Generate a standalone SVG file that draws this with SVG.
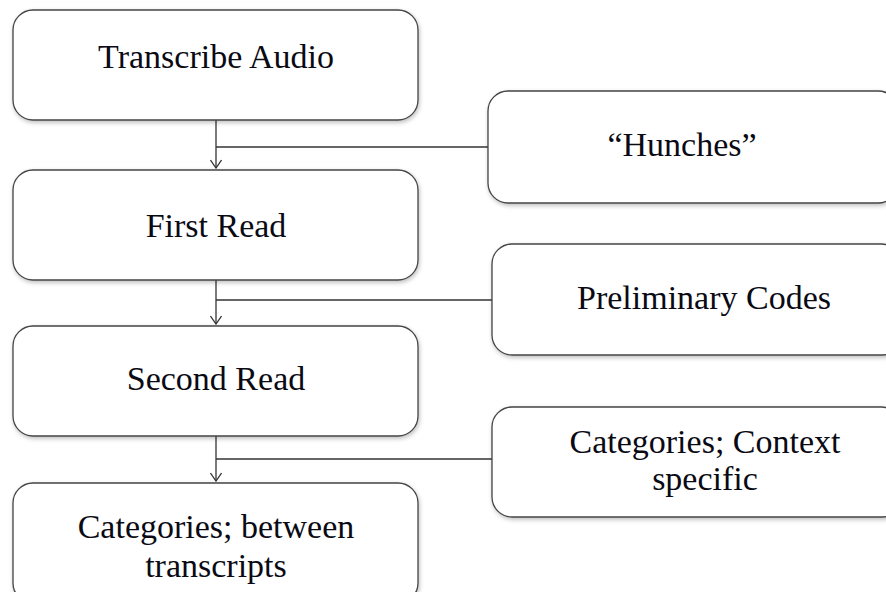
<svg xmlns="http://www.w3.org/2000/svg" width="886" height="592" viewBox="0 0 886 592">
<defs>
<style>
.box{fill:#fff;stroke:#444;stroke-width:1.3}
.t{font-family:"Liberation Serif","Times New Roman",serif;font-size:34px;fill:#0a0a14;text-anchor:middle}
.c{fill:none;stroke:#333;stroke-width:1.3}
</style>
<filter id="sh" x="-5%" y="-5%" width="112%" height="120%">
<feDropShadow dx="1" dy="2" stdDeviation="2" flood-color="#000" flood-opacity="0.25"/>
</filter>
<marker id="arr" viewBox="0 0 12 12" refX="11" refY="6" markerWidth="12" markerHeight="12" markerUnits="userSpaceOnUse" orient="auto">
<path d="M3,0.5 L11,6 L3,11.5" fill="none" stroke="#333" stroke-width="1.3"/>
</marker>
</defs>
<g id="connectors">
<path class="c" d="M216,120 V168" marker-end="url(#arr)"/>
<path class="c" d="M216,147 H488"/>
<path class="c" d="M216,280 V324" marker-end="url(#arr)"/>
<path class="c" d="M216,300 H492"/>
<path class="c" d="M216,436 V481" marker-end="url(#arr)"/>
<path class="c" d="M216,459 H492"/>
</g>
<g id="transcribe">
<rect class="box" filter="url(#sh)" x="13" y="10" width="405" height="110" rx="20"/>
<text class="t" x="216" y="68">Transcribe Audio</text>
</g>
<g id="first">
<rect class="box" filter="url(#sh)" x="13" y="170" width="405" height="110" rx="20"/>
<text class="t" x="216" y="237">First Read</text>
</g>
<g id="second">
<rect class="box" filter="url(#sh)" x="13" y="326" width="405" height="110" rx="20"/>
<text class="t" x="216" y="390">Second Read</text>
</g>
<g id="between">
<rect class="box" filter="url(#sh)" x="13" y="483" width="405" height="120" rx="20"/>
<text class="t" x="216" y="538">Categories; between</text>
<text class="t" x="216" y="577">transcripts</text>
</g>
<g id="hunches">
<rect class="box" filter="url(#sh)" x="488" y="91" width="410" height="112" rx="20"/>
<text class="t" x="682" y="156">“Hunches”</text>
</g>
<g id="preliminary">
<rect class="box" filter="url(#sh)" x="492" y="244" width="410" height="111" rx="20"/>
<text class="t" x="704" y="309">Preliminary Codes</text>
</g>
<g id="context">
<rect class="box" filter="url(#sh)" x="492" y="407" width="410" height="110" rx="20"/>
<text class="t" x="705" y="453">Categories; Context</text>
<text class="t" x="705" y="490">specific</text>
</g>
</svg>
